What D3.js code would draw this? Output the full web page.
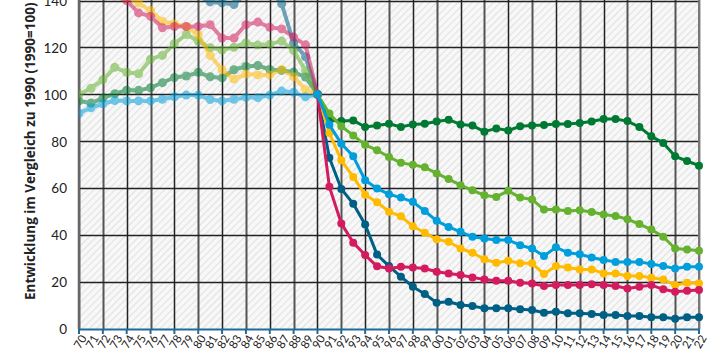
<!DOCTYPE html>
<html>
<head>
<meta charset="utf-8">
<script src="https://cdn.jsdelivr.net/npm/d3@7"></script>
<style>
  body { margin: 0; background: #fff; }
  text { font-family: Lato, "Open Sans", sans-serif; fill: #222; }
</style>
</head>
<body>
<div id="chart"></div>
<script>
// Entwicklung 1970-2022, Index 1990 = 100

const years = d3.range(1970, 2023);
const yTicks = [0, 20, 40, 60, 80, 100, 120, 140];

const darkTeal = [160, 158, 160, 162, 158, 150, 152, 150, 148, 146, 142,
  139.4, 139, 138.3, 143, 146, 145, 138.6, 121.9, 116, 100,
  73, 59.7, 53.4, 44.5, 31.7, 26.8, 22.3, 18, 14.9, 11.2,
  11.6, 10.2, 9.8, 8.8, 8.8, 8.8, 8.4, 8.1, 6.9, 7.4,
  6.7, 6.7, 6.4, 6, 6, 5.5, 5.5, 5, 5, 4.4, 5, 5];
const lightBlue = [92, 94.3, 96, 97.4, 97.2, 97.2, 97.2, 97.9, 99, 99.7, 99.7,
  97.8, 97.2, 97.9, 98.7, 98.6, 99.7, 101.4, 100.9, 98.9, 100,
  87, 79, 73.6, 63.4, 59.9, 57.4, 56, 54.2, 50.3, 46.1,
  43.5, 41.4, 39.3, 38.6, 37.9, 37.9, 35.7, 34.3, 31.1, 34.8,
  32.5, 31.9, 30.5, 29.4, 28.6, 28.6, 28.6, 27.7, 26.8, 25.8, 26.5, 26.5];
const yellow = [160, 155, 150, 145, 141.5, 138.9, 135.7, 131.2, 130, 128.9, 125.4,
  116.6, 110.5, 106.5, 108.7, 108.3, 108.3, 110.6, 107.5, 102, 100,
  83.5, 71.9, 64.8, 57.2, 54, 50, 48, 43.8, 41, 38.2,
  37.2, 34.3, 32.5, 29.7, 28.2, 29.1, 28, 28, 23.4, 26.8,
  26.2, 25.4, 25.4, 23.7, 23.7, 22.6, 22.6, 21.8, 21.1, 18.7, 19.7, 19.4];
const pink = [152, 148, 145, 142, 140, 134.7, 133.3, 128.4, 128.9, 128.9, 128.9,
  129.7, 124, 124, 129.7, 130.8, 128.6, 127.9, 124.4, 121.1, 100,
  60.6, 45, 36.8, 31.5, 26.7, 25.8, 26.5, 26.2, 25.8, 24.4,
  23.7, 23, 22, 21.1, 20.6, 20.6, 19.7, 19.4, 18.3, 18.7,
  18.7, 18.7, 19.1, 18.7, 18.3, 17.3, 18, 18.7, 16.9, 15.9, 16.3, 16.6];
const lightGreen = [100, 102.6, 106.2, 111.5, 109.4, 108.8, 115, 116.6, 121.6, 125.5, 122.7,
  119.9, 118.9, 120.1, 121.9, 121, 121.4, 122.7, 118.7, 110.2, 100,
  91.8, 86.4, 82.5, 78.5, 76.2, 73.3, 70.8, 70, 68.9, 66.3,
  63.9, 61.3, 59.1, 57, 56.3, 58.9, 56, 55.2, 50.9, 50.9,
  50.3, 50.6, 49.9, 48.8, 48.2, 46.8, 44.7, 42.4, 39.3, 34.3, 33.9, 33.3];
const darkGreen = [97.2, 96.3, 98.4, 100.3, 101.8, 101.7, 102.8, 105, 107.2, 107.8, 109.4,
  107.5, 107, 110.5, 111.9, 112.3, 110.6, 110.2, 109.5, 107.4, 100,
  88.9, 88.6, 88.9, 86.1, 86.7, 87.5, 86.1, 87.2, 87.5, 88.4,
  89.2, 87.2, 86.7, 84.1, 85.5, 84.6, 86.4, 86.7, 86.9, 87.4,
  87.4, 87.8, 88.4, 89.5, 89.5, 88.6, 86.1, 82.1, 79.3, 73.6, 71.6, 69.6];

const series = [
  { name: "darkTeal", values: darkTeal, color: "#005f85" },
  { name: "darkGreen", values: darkGreen, color: "#007a33" },
  { name: "lightGreen", values: lightGreen, color: "#64b22f" },
  { name: "yellow", values: yellow, color: "#ffbb00" },
  { name: "pink", values: pink, color: "#d31c5f" },
  { name: "lightBlue", values: lightBlue, color: "#009fdb" }
];

const width = 707,
    height = 354,
    margin = ({ top: 0, right: 8, bottom: 25, left: 79 });

const svg = d3.select("#chart")
  .append("svg")
  .attr("width", width)
  .attr("height", height);

const x = d3.scaleLinear()
  .domain([1970, 2022])
  .range([margin.left, width - margin.right]);

const y = d3.scaleLinear()
  .domain([0, 140])
  .range([height - margin.bottom, 0.5]);

// hatched plot background
const defs = svg.append("defs");
const pat = defs.append("pattern")
  .attr("id", "hatch")
  .attr("patternUnits", "userSpaceOnUse")
  .attr("width", 5)
  .attr("height", 5)
  .attr("patternTransform", "rotate(45)");
pat.append("rect").attr("width", 5).attr("height", 5).attr("fill", "#f8f8f8");
pat.append("line")
  .attr("x1", 0).attr("y1", 0).attr("x2", 0).attr("y2", 5)
  .attr("stroke", "#e2e2e2").attr("stroke-width", 2.2);

defs.append("clipPath").attr("id", "plot")
  .append("rect")
  .attr("x", x(1970)).attr("y", -20)
  .attr("width", x(2022) - x(1970) + 6)
  .attr("height", y(0) + 20);

svg.append("rect")
  .attr("x", x(1970))
  .attr("y", 0)
  .attr("width", x(2022) - x(1970))
  .attr("height", y(0))
  .attr("fill", "url(#hatch)");

// grid
const gridYears = years.filter(d => d % 2 === 0);
svg.append("g")
  .selectAll("line")
  .data(gridYears)
  .join("line")
  .attr("x1", d => Math.round(x(d)) + 0.5).attr("x2", d => Math.round(x(d)) + 0.5)
  .attr("y1", 0).attr("y2", y(0))
  .attr("stroke", (d, i) => i % 2 ? "#555" : "#222")
  .attr("stroke-width", (d, i) => i % 2 ? 2 : 1.5);

svg.append("g")
  .selectAll("line")
  .data(yTicks.filter(d => d > 0))
  .join("line")
  .attr("x1", x(1970)).attr("x2", x(2022))
  .attr("y1", d => Math.round(y(d)) + 0.5).attr("y2", d => Math.round(y(d)) + 0.5)
  .attr("stroke", "#222")
  .attr("stroke-width", 1.5);

svg.append("line")
  .attr("x1", x(1970)).attr("x2", x(1970))
  .attr("y1", 0).attr("y2", y(0))
  .attr("stroke", "#666").attr("stroke-width", 2.5);
svg.append("line")
  .attr("x1", x(2022)).attr("x2", x(2022))
  .attr("y1", 0).attr("y2", y(0))
  .attr("stroke", "#777").attr("stroke-width", 2);

// y axis labels
const yAxis = svg.append("g")
  .attr("transform", `translate(${margin.left - 12},0)`)
  .call(d3.axisLeft(y).tickValues(yTicks).tickSize(0));
yAxis.select(".domain").remove();
yAxis.selectAll("text")
  .attr("x", 0)
  .attr("dy", "0.35em")
  .style("font-size", "13.5px")
  .style("fill", "#222");

svg.append("text")
  .attr("transform", "translate(35,300) rotate(-90)")
  .attr("text-anchor", "start")
  .style("font-family", "'Open Sans', sans-serif")
  .style("font-size", "13.5px")
  .style("font-weight", "bold")
  .text("Entwicklung im Vergleich zu 1990 (1990=100)");

// x axis
const xAxis = svg.append("g")
  .attr("transform", `translate(0,${y(0)})`)
  .call(d3.axisBottom(x).tickValues(years).tickSize(0).tickFormat(d => String(d).slice(2)));
xAxis.select(".domain")
  .attr("stroke", "#1f6d96")
  .attr("stroke-width", 2);
xAxis.selectAll("text")
  .attr("transform", "rotate(-60)")
  .attr("text-anchor", "end")
  .attr("x", -4)
  .attr("y", 7)
  .attr("dy", "0.35em")
  .style("font-size", "11.5px")
  .style("fill", "#222");
xAxis.selectAll(".tickmark")
  .data(gridYears)
  .join("line")
  .attr("x1", d => x(d)).attr("x2", d => x(d))
  .attr("y1", 0).attr("y2", 5)
  .attr("stroke", "#1f6d96")
  .attr("stroke-width", 2);

// lines
const line = d3.line()
  .x(d => x(d.year))
  .y(d => y(d.value));

const plot = svg.append("g").attr("clip-path", "url(#plot)");

const early = plot.append("g");
const late = plot.append("g");

series.forEach(s => {
  const before = years.map((yr, i) => ({ year: yr, value: s.values[i] }))
    .filter(d => d.year <= 1990);
  const gE = early.append("g").attr("opacity", 0.55);
  gE.append("path")
    .datum(before)
    .attr("fill", "none")
    .attr("stroke", s.color)
    .attr("stroke-width", 4)
    .attr("stroke-linejoin", "round")
    .attr("d", line);
  gE.selectAll("circle")
    .data(before)
    .join("circle")
    .attr("cx", d => x(d.year))
    .attr("cy", d => y(d.value))
    .attr("r", 4.5)
    .attr("fill", s.color);
});

series.forEach(s => {
  const after = years.map((yr, i) => ({ year: yr, value: s.values[i] }))
    .filter(d => d.year >= 1990);
  const gL = late.append("g");
  gL.append("path")
    .datum(after)
    .attr("fill", "none")
    .attr("stroke", s.color)
    .attr("stroke-width", 3)
    .attr("stroke-linejoin", "round")
    .attr("d", line);
  gL.selectAll("circle")
    .data(after)
    .join("circle")
    .attr("cx", d => x(d.year))
    .attr("cy", d => y(d.value))
    .attr("r", 4)
    .attr("fill", s.color);
});
</script>
</body>
</html>
